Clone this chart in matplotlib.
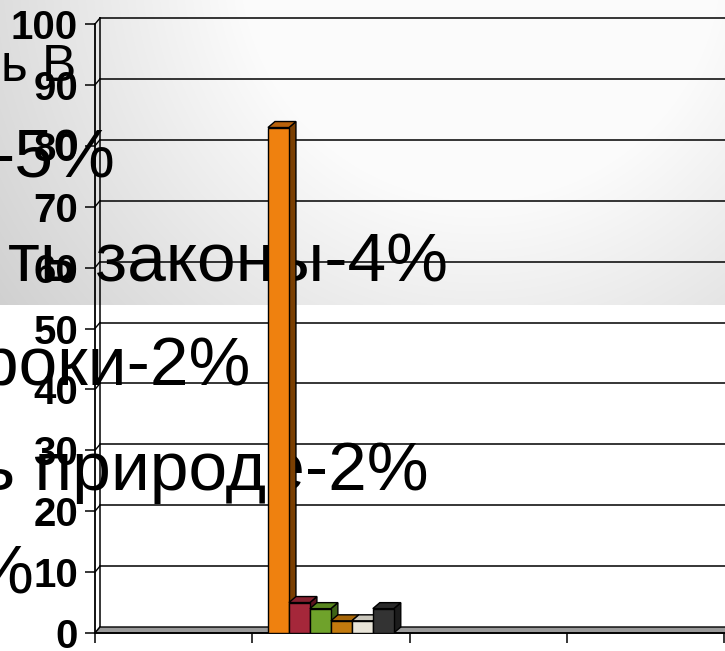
import numpy as np
import matplotlib
matplotlib.use("Agg")
import matplotlib.pyplot as plt
import matplotlib.transforms as mtransforms
from matplotlib.patches import Polygon

# data: 4 categories, 6 series, only the 2nd category holds values
categories = ["1", "2", "3", "4"]
series_a = [np.nan, 83, np.nan, np.nan]
series_b = [np.nan, 5, np.nan, np.nan]
series_c = [np.nan, 4, np.nan, np.nan]
series_d = [np.nan, 2, np.nan, np.nan]
series_e = [np.nan, 2, np.nan, np.nan]
series_f = [np.nan, 4, np.nan, np.nan]
all_series = [series_a, series_b, series_c, series_d, series_e, series_f]
y_ticks = list(range(0, 101, 10))

# overlaid slide text (cut off on the left)
slide_lines = ["ь В", "-5%", "ть законы-4%", "уроки-2%", "ь природе-2%", "%"]

# (front, top, side) colours per series
bar_colors = [
    ("#EF810F", "#B8620C", "#7A3F02"),
    ("#A5273A", "#86202F", "#5C1320"),
    ("#6FA22B", "#58861F", "#3D6316"),
    ("#C27A0E", "#A66609", "#76480A"),
    ("#E8E4D8", "#C9C6BB", "#A8A59B"),
    ("#333333", "#2A2A2A", "#1C1C1C"),
]

W, H = 725, 651
fig = plt.figure(figsize=(W / 100, H / 100), dpi=100)

# gray gradient header box on the slide
bg = fig.add_axes([0, 0, 1, 1], zorder=-10)
bg.axis("off")
yy, xx = np.mgrid[0:H, 0:W]
d = np.hypot(xx - 480, yy + 40)
v = np.clip(1.10 - 0.00048 * d, 0.80, 0.985)
v[yy > 304] = 1.0
img = np.dstack([v, v, v])
bg.imshow(img, extent=[0, W, H, 0], aspect="auto", interpolation="bilinear")
bg.set_xlim(0, W)
bg.set_ylim(H, 0)

# chart axes, front frame in pixels: x 95..724, y 633..24
ax = fig.add_axes([95 / W, (H - 633) / H, (724 - 95) / W, (633 - 24) / H])
ax.patch.set_alpha(0)
ax.set_xlim(0, len(categories))
ax.set_ylim(0, 100)
for s in ["top", "right"]:
    ax.spines[s].set_visible(False)
ax.spines["left"].set_linewidth(1.3)
ax.spines["bottom"].set_linewidth(1.3)

ax.set_yticks(y_ticks)
ax.set_yticklabels([str(t) for t in y_ticks], fontsize=29, fontweight="bold",
                   family="Liberation Sans")
ax.tick_params(axis="y", length=7.2, width=1.1, pad=5)
ax.set_xticks(range(len(categories) + 1))
ax.set_xticklabels([])
ax.tick_params(axis="x", length=7.5, width=1.1)

ident = mtransforms.IdentityTransform()
wall = mtransforms.offset_copy(ax.transData, fig=fig, x=5, y=6, units="dots")

# back wall gridlines, wall edge and the little connectors
for t in y_ticks[1:]:
    ax.plot([0, len(categories) + 0.05], [t, t], color="black", lw=1.1,
            transform=wall, clip_on=False, zorder=1)
ax.plot([0, 0], [0, 100], color="black", lw=1.1, transform=wall,
        clip_on=False, zorder=1)
for t in y_ticks:
    p = ax.transData.transform((0, t))
    ax.plot([p[0], p[0] + 5], [p[1], p[1] + 6], color="black", lw=1.0,
            transform=ident, clip_on=False, zorder=1)

# floor
f0 = ax.transData.transform((0, 0))
f1 = ax.transData.transform((len(categories) + 0.05, 0))
floor = Polygon([f0, f1, f1 + [5, 6], f0 + [5, 6]], closed=True,
                facecolor="#9A9A9A", edgecolor="black", lw=1.0,
                transform=ident, clip_on=False, zorder=1.2)
ax.add_patch(floor)

# slide text, drawn above the gridlines
text_right = [76, 116, 448, 251, 429, 33]
text_base = [81, 177, 282, 385, 490, 593]
text_size = [37, 50, 50, 50, 50, 50]
for s, xr, yb, fs in zip(slide_lines, text_right, text_base, text_size):
    ax.text(xr / W, 1 - yb / H, s, transform=fig.transFigure, ha="right",
            va="baseline", fontsize=fs, family="Liberation Sans",
            color="black", clip_on=False, zorder=2)

# 3d-ish bars
n = len(all_series)
bw = 0.8 / n
dx, dy = 7, 6
for i, (vals, (cf, ct, cs)) in enumerate(zip(all_series, bar_colors)):
    z = 3 + 2 * i
    for c, h in enumerate(vals):
        if np.isnan(h):
            continue
        x0 = c + 0.1 + i * bw
        bl = ax.transData.transform((x0, 0))
        br = ax.transData.transform((x0 + bw, 0))
        tl = ax.transData.transform((x0, h))
        tr = ax.transData.transform((x0 + bw, h))
        top = Polygon([tl, tr, tr + [dx, dy], tl + [dx, dy]], closed=True,
                      facecolor=ct, edgecolor="black", lw=1.0,
                      transform=ident, zorder=z)
        side = Polygon([br, tr, tr + [dx, dy], br + [dx, dy]], closed=True,
                       facecolor=cs, edgecolor="black", lw=1.0,
                       transform=ident, zorder=z)
        ax.add_patch(side)
        ax.add_patch(top)
        ax.bar(x0, h, width=bw, align="edge", color=cf, edgecolor="black",
               lw=1.0, zorder=z + 1)

fig.savefig("out.png", dpi=100)
